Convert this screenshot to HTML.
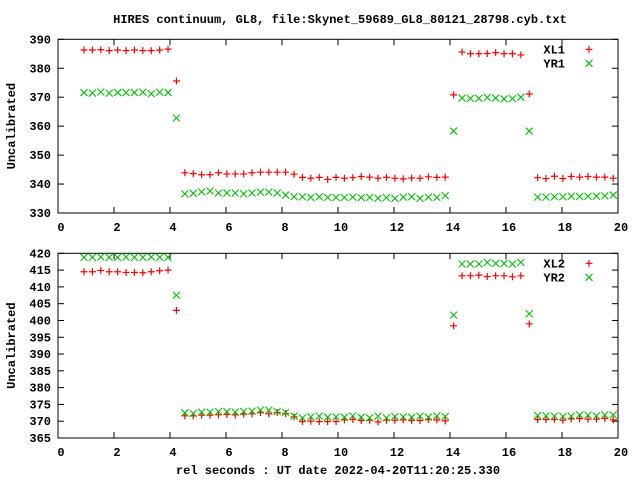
<!DOCTYPE html>
<html><head><meta charset="utf-8"><style>
body{margin:0;background:#fff}
svg text{font-family:"Liberation Mono",monospace;font-weight:bold;font-size:12px;fill:#000}
</style></head><body>
<svg id="chart" width="640" height="480" xmlns="http://www.w3.org/2000/svg">
<rect width="640" height="480" fill="#fff"/>
<text x="340" y="23" text-anchor="middle">HIRES continuum, GL8, file:Skynet_59689_GL8_80121_28798.cyb.txt</text>
<text x="338" y="474" text-anchor="middle">rel seconds : UT date 2022-04-20T11:20:25.330</text>
<g id="p1"></g>
<g id="p2"></g>
</svg>
<script>
const t0 = 0.93, dt = 0.3;
const XL1 = [386.3,386.3,386.4,386.1,386.3,386.1,386.3,386.1,386.1,386.3,386.6,375.6,
343.9,343.6,343.2,343.2,343.9,343.5,343.5,343.5,343.9,344.1,344.1,344.1,344.1,343.4,342.3,342.0,342.3,341.6,342.3,342.0,
342.2,342.6,342.4,342.0,342.3,342.0,341.8,342.1,342.0,342.5,342.3,342.4,370.8,
385.6,385.0,385.0,385.1,385.4,385.0,385.0,384.6,371.1,
342.2,341.9,342.7,341.9,342.6,342.4,342.6,342.4,342.4,342.0];
const YR1 = [371.6,371.4,371.8,371.4,371.6,371.6,371.6,371.7,371.2,371.7,371.6,362.8,
336.6,336.8,337.3,337.6,336.9,336.9,336.9,336.6,336.9,337.2,337.2,336.9,336.2,335.6,335.6,335.4,335.6,335.4,335.4,335.4,
335.5,335.3,335.4,335.1,335.3,335.0,335.5,335.6,335.0,335.5,335.4,336.0,358.3,
369.7,369.6,369.6,369.9,369.7,369.4,369.5,370.0,358.3,
335.5,335.5,335.6,335.6,335.8,335.7,335.8,335.8,335.9,336.2];
const XL2 = [414.5,414.5,414.9,414.5,414.5,414.3,414.3,414.2,414.5,414.8,415.0,403.0,
371.6,371.6,371.8,371.8,371.9,372.0,371.9,372.1,372.2,372.6,372.2,372.6,372.3,371.3,369.9,370.0,369.9,369.9,369.9,370.4,
370.5,370.2,370.3,369.8,370.3,370.3,370.4,370.2,370.2,370.5,370.4,370.1,398.4,
413.3,413.3,413.5,413.1,413.3,413.3,413.0,413.3,399.0,
370.5,370.5,370.5,370.3,370.7,370.8,370.6,370.6,370.8,370.4];
const YR2 = [418.8,418.8,418.9,418.8,418.8,418.9,418.8,418.8,418.9,418.8,418.8,407.5,
372.5,372.3,372.7,372.7,372.9,372.9,372.7,372.9,373.0,373.3,373.3,372.9,372.6,371.5,371.0,371.3,371.5,371.2,371.3,371.2,
371.6,371.2,371.0,371.5,371.0,371.4,371.3,371.2,371.5,371.2,371.6,371.4,401.6,
416.8,416.8,416.8,417.3,417.0,417.0,416.8,417.3,402.0,
371.7,371.6,371.5,371.4,371.5,371.9,371.8,371.6,371.9,371.9];
const xTicks = [0,2,4,6,8,10,12,14,16,18,20];
const y1Ticks = [330,340,350,360,370,380,390];
const y2Ticks = [365,370,375,380,385,390,395,400,405,410,415,420];

const NS = "http://www.w3.org/2000/svg";
function mk(parent, tag, attrs){const e=document.createElementNS(NS,tag);for(const k in attrs)e.setAttribute(k,attrs[k]);parent.appendChild(e);return e;}

function panel(g, top, bottom, ymin, ymax, yTicks, sA, sB, nA, nB, prefix){
  const L=58, R=618;
  const xs = v => L + (v-0)/(20-0)*(R-L);
  const ys = v => bottom - (v-ymin)/(ymax-ymin)*(bottom-top);
  let f = mk(g,'rect',{x:L,y:top,width:R-L,height:bottom-top,fill:'none',stroke:'#000','stroke-width':1});
  
  
  xTicks.forEach(v=>{
    const x=xs(v);
    mk(g,'line',{x1:x,y1:bottom,x2:x,y2:bottom-6,stroke:'#000'});
    mk(g,'line',{x1:x,y1:top,x2:x,y2:top+6,stroke:'#000'});
    const t=mk(g,'text',{x:x+3,y:bottom+18,'text-anchor':'middle'});
    t.textContent=v;
    
    
  });
  yTicks.forEach(v=>{
    const y=ys(v);
    mk(g,'line',{x1:L,y1:y,x2:L+6,y2:y,stroke:'#000'});
    mk(g,'line',{x1:R,y1:y,x2:R-6,y2:y,stroke:'#000'});
    const t=mk(g,'text',{x:51,y:y+4,'text-anchor':'end'});
    t.textContent=v;
    
    
  });
  const yl=mk(g,'text',{x:0,y:0,'text-anchor':'middle',transform:`translate(15,${(top+bottom)/2}) rotate(-90)`});
  yl.textContent='Uncalibrated';
  
  
  function plus(x,y){return mk(g,'path',{d:`M${x-3.5},${y}H${x+3.5}M${x},${y-3.5}V${y+3.5}`,stroke:'#ff0000','stroke-width':1.2,fill:'none'});}
  function cross(x,y){return mk(g,'path',{d:`M${x-3.5},${y-3.5}L${x+3.5},${y+3.5}M${x-3.5},${y+3.5}L${x+3.5},${y-3.5}`,stroke:'#00c000','stroke-width':1.1,fill:'none'});}
  sA.forEach((v,i)=>{const p=plus(xs(t0+i*dt),ys(v));
    
    });
  sB.forEach((v,i)=>{const p=cross(xs(t0+i*dt),ys(v));
    
    });
  const l1=mk(g,'text',{x:565,y:top+14,'text-anchor':'end'});l1.textContent=nA;
  
  
  const l2=mk(g,'text',{x:565,y:top+28,'text-anchor':'end'});l2.textContent=nB;
  
  
  const m1=plus(589,top+10);
  
  
  const m2=cross(589,top+24);
  
  
}
panel(document.getElementById('p1'),39.3,213,330,390,y1Ticks,XL1,YR1,'XL1','YR1','top');
panel(document.getElementById('p2'),253.3,438,365,420,y2Ticks,XL2,YR2,'XL2','YR2','bottom');
</script>
</body></html>
